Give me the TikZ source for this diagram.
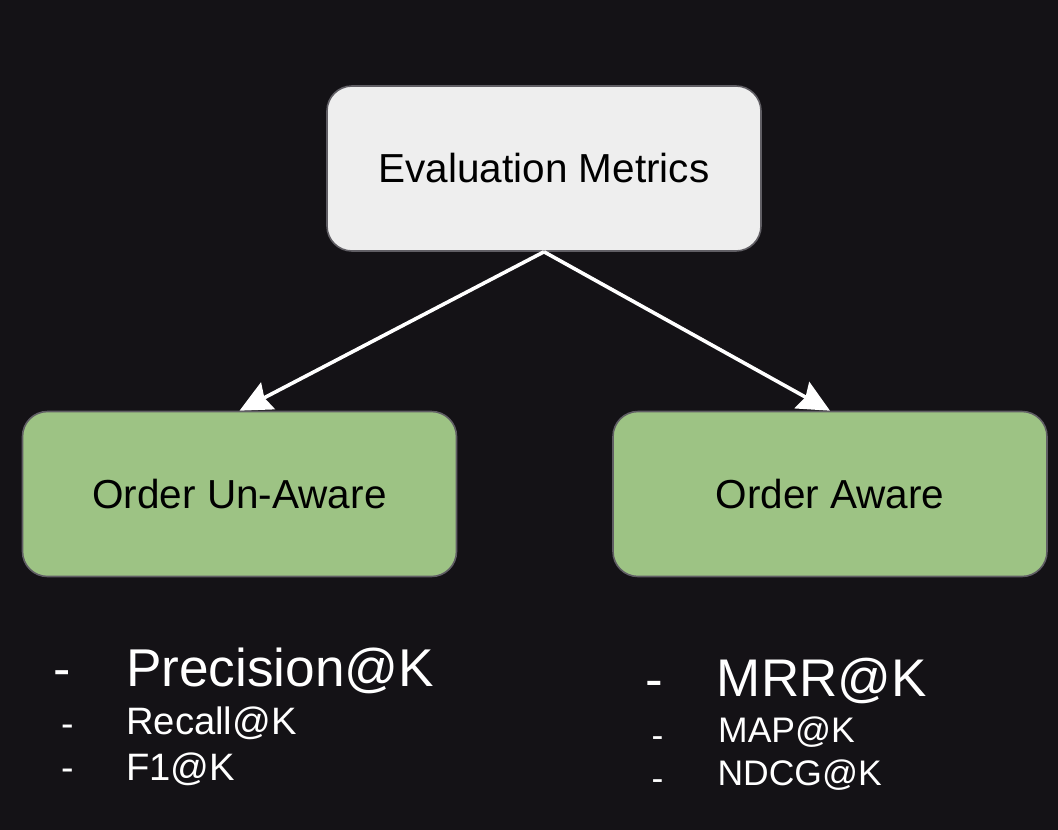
\documentclass[tikz,border=0pt]{standalone}
\usepackage{fontspec}
\setmainfont{Liberation Sans}
\usetikzlibrary{arrows.meta}
\definecolor{bgc}{RGB}{20,18,22}
\definecolor{topfill}{RGB}{238,238,238}
\definecolor{greenfill}{RGB}{157,195,132}
\definecolor{boxline}{RGB}{96,94,100}
\tikzset{
  box/.style={draw=boxline, line width=1.6pt, rounded corners=25pt, minimum width=434pt, minimum height=165pt, inner sep=0pt, text=black, font=\fontsize{40.5}{48}\selectfont},
  topbox/.style={box, fill=topfill},
  greenbox/.style={box, fill=greenfill},
  conn/.style={draw=white, line width=3.6pt, arrows={-Stealth[length=32pt, width=30pt, inset=4pt]}},
  item/.style={anchor=base west, inner sep=0pt, text=white},
}
\begin{document}
\begin{tikzpicture}[x=1pt, y=-1pt]
  \useasboundingbox[fill=bgc] (0,0) rectangle (1058,830);
  \node[topbox] (top) at (544,168.5) {\raisebox{-2pt}{Evaluation Metrics}};
  \node[greenbox] (left) at (239.5,494) {Order Un-Aware};
  \node[greenbox] (right) at (830,494) {Order Aware};
  \coordinate (src) at (top.south);
  \draw[conn] (src) -- (left.north);
  \draw[conn] (src) -- (right.north);
  % left list
  \node[item, font=\fontsize{52}{60}\selectfont] (ld1) at (53.7,686.3) {-};
  \node[item, font=\fontsize{53.2}{60}\selectfont] (l1) at (126,686) {Precision@K};
  \node[item, font=\fontsize{37.5}{45}\selectfont] (ld2) at (61,736) {-};
  \node[item, font=\fontsize{38.2}{45}\selectfont] (l2) at (126,734) {Recall@K};
  \node[item, font=\fontsize{37.5}{45}\selectfont] (ld3) at (61,780.5) {-};
  \node[item, font=\fontsize{38.2}{45}\selectfont] (l3) at (126,780.5) {F1@K};
  % right list
  \node[item, font=\fontsize{53}{60}\selectfont] (rd1) at (645.6,697.5) {-};
  \node[item, font=\fontsize{53}{60}\selectfont] (r1) at (716.7,696.7) {MRR@K};
  \node[item, font=\fontsize{35.5}{42}\selectfont] (rd2) at (651.4,747) {-};
  \node[item, font=\fontsize{35.5}{42}\selectfont] (r2) at (718,742.7) {MAP@K};
  \node[item, font=\fontsize{35.5}{42}\selectfont] (rd3) at (651.4,790) {-};
  \node[item, font=\fontsize{35.5}{42}\selectfont] (r3) at (717.3,785.3) {NDCG@K};
\end{tikzpicture}
\end{document}
